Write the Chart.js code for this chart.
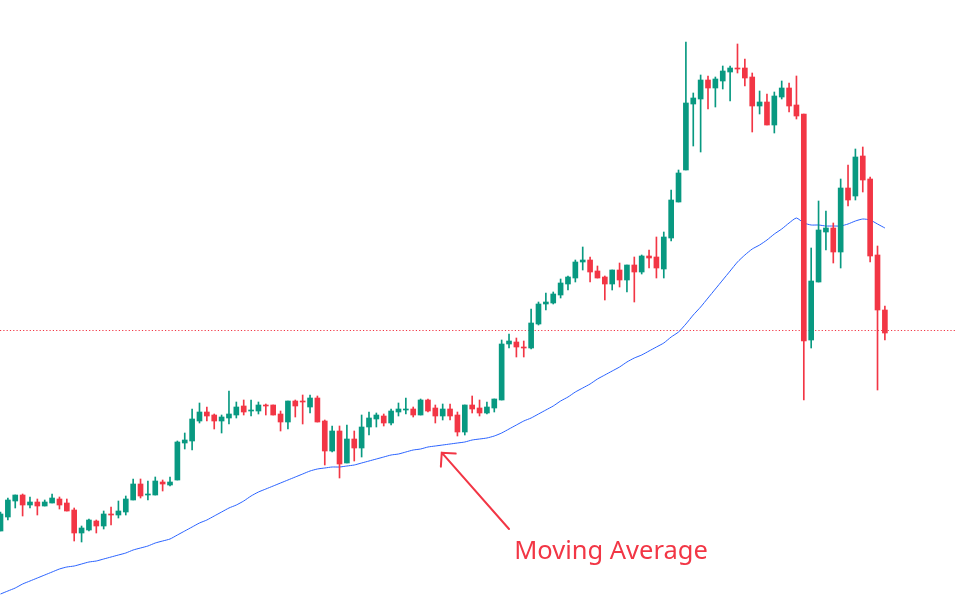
<!DOCTYPE html>
<html>
<head>
<meta charset="utf-8">
<script src="https://cdn.jsdelivr.net/npm/chart.js@4.4.1/dist/chart.umd.min.js"></script>
<style>
  html, body { margin: 0; padding: 0; background: #ffffff; overflow: hidden; }
  #wrap { width: 956px; height: 613px; position: relative; }
</style>
</head>
<body>
<div id="wrap"><canvas id="chart"></canvas></div>
<script>
// velas (OHLC), unidades de precio arbitrarias
const open = [169,183,199,205,195,198,194,197,201,197, 190,167,170,179,174,186,185,188,200,216,
  205,205,218,215,220,257,259,279,288,285, 279,282,285,294,289,289,295,295,286,278,
  299,299,293,302,279,249,269,237,261,252, 273,281,284,277,288,290,291,285,300,292,
  284,291,285,268,295,292,287,292,300,356, 358,353,352,376,396,397,405,416,422,438,
  440,429,423,416,430,420,435,428,444,443, 431,462,498,530,596,601,620,612,619,628,
  632,632,623,594,598,575,603,612,595,586, 360,418,468,472,448,512,504,544,521,445,390];
const high = [188,202,205,206,203,201,200,206,203,201, 192,174,181,180,189,193,199,204,221,221,
  219,223,220,223,259,267,291,297,293,286, 285,309,298,300,300,298,296,295,289,299,
  300,305,305,304,280,274,274,275,269,285, 288,287,286,291,297,302,293,301,301,295,
  296,296,288,295,304,300,298,301,360,366, 362,359,391,398,407,408,421,424,440,453,
  443,434,424,430,437,435,443,445,450,463, 468,510,530,658,607,625,624,623,634,634,
  656,641,627,609,606,608,619,617,624,586, 452,499,489,477,521,535,551,553,523,454,394];
const low = [169,180,192,184,192,185,194,197,191,189, 159,158,169,167,171,175,182,185,200,202,
  200,205,209,214,220,251,250,277,279,271, 267,276,282,285,284,286,285,285,269,271,
  283,276,287,278,235,248,222,237,239,243, 265,273,274,275,284,286,283,285,288,277,
  280,280,264,265,287,284,286,288,300,352, 343,343,351,375,390,396,402,410,418,430,
  418,422,400,410,413,408,398,426,432,422, 422,459,498,530,554,548,591,593,611,599,
  627,614,568,586,575,567,601,588,581,300, 352,418,450,437,432,494,500,508,438,310,360];
const close = [186,200,205,195,198,194,198,202,195,189, 167,172,180,174,186,185,189,201,216,204,
  206,219,216,218,258,260,281,288,284,279, 283,286,293,288,290,295,294,285,278,299,
  294,298,302,278,249,269,236,261,252,273, 282,285,277,289,291,291,285,300,289,284,
  291,284,268,295,291,287,293,301,356,359, 353,352,377,396,398,406,417,423,438,440,
  428,422,416,430,420,435,428,444,442,432, 463,500,527,597,602,620,612,621,629,632,
  631,622,594,598,575,604,612,594,584,359, 419,470,472,448,512,500,543,520,444,390,367];

// media movil
const movingAverage = [106,109,112,116,119,122,125,128,131,133, 134,136,138,139,141,143,145,147,150,152,
  154,157,159,161,165,169,173,177,180,184, 188,192,195,199,204,208,211,214,217,220,
  223,226,229,231,232,233,233,234,235,237, 239,241,243,245,246,248,250,251,253,254,
  255,256,257,258,260,261,262,264,267,271, 275,279,282,286,290,294,299,303,308,312,
  316,321,325,329,333,338,342,345,349,353, 357,363,368,376,385,393,402,411,420,429,
  438,445,451,455,460,466,471,477,482,477, 475,475,474,474,474,476,479,481,480,476,472];

// linea de precio actual (punteada)
const priceLine = 369.5;

// anotacion: flecha y texto
const arrowTip = { x: 59.87, y: 247.3 };
const arrowTail = { x: 69.0, y: 171 };
const labelPos = { x: 69.7, y: 141 };
const labelText = "Moving Average";

const UP = "#089981";
const DOWN = "#F23645";

const idx = open.map((_, i) => i);
const colors = idx.map(i => close[i] >= open[i] ? UP : DOWN);
const bodies = idx.map(i => ({ x: i, y: [open[i], close[i]] }));
const wicks = idx.map(i => ({ x: i, y: [low[i], high[i]] }));
const maPoints = idx.map(i => ({ x: i, y: movingAverage[i] }));

const xMin = -0.068;
const xMax = 129.65;
const linePoints = [{ x: xMin, y: priceLine }, { x: xMax, y: priceLine }];

// Plugin para la flecha y el texto
const annotationPlugin = {
  id: "annotation",
  afterDatasetsDraw(chart) {
    const ctx = chart.ctx;
    const xs = chart.scales.x, ys = chart.scales.y;
    const tx = xs.getPixelForValue(arrowTip.x), ty = ys.getPixelForValue(arrowTip.y);
    const sx = xs.getPixelForValue(arrowTail.x), sy = ys.getPixelForValue(arrowTail.y);
    const ang = Math.atan2(sy - ty, sx - tx);
    const head = 14;
    ctx.save();
    ctx.strokeStyle = DOWN;
    ctx.lineWidth = 2;
    ctx.lineCap = "round";
    ctx.beginPath();
    ctx.moveTo(sx, sy);
    ctx.lineTo(tx, ty);
    ctx.moveTo(tx + head * Math.cos(ang - Math.PI / 4), ty + head * Math.sin(ang - Math.PI / 4));
    ctx.lineTo(tx, ty);
    ctx.lineTo(tx + head * Math.cos(ang + Math.PI / 4), ty + head * Math.sin(ang + Math.PI / 4));
    ctx.stroke();

    ctx.fillStyle = DOWN;
    ctx.font = "25.5px 'Noto Sans'";
    ctx.textBaseline = "alphabetic";
    ctx.fillText(labelText, xs.getPixelForValue(labelPos.x), ys.getPixelForValue(labelPos.y));
    ctx.restore();
  }
};

const ctx = document.getElementById("chart").getContext("2d");
window.myChart = new Chart(ctx, {
  type: "bar",
  data: {
    datasets: [
      {
        label: "body",
        data: bodies,
        backgroundColor: colors,
        barThickness: 5,
        minBarLength: 1,
        grouped: false,
        order: 0
      },
      {
        label: "wick",
        data: wicks,
        backgroundColor: colors,
        barThickness: 1,
        grouped: false,
        order: 1
      },
      {
        type: "line",
        label: "MA",
        data: maPoints,
        borderColor: "#2962FF",
        borderWidth: 1,
        pointRadius: 0,
        tension: 0.2,
        order: 2
      },
      {
        type: "line",
        label: "price",
        data: linePoints,
        borderColor: DOWN,
        borderWidth: 1,
        borderDash: [1.2, 2.1],
        pointRadius: 0,
        order: 3
      }
    ]
  },
  options: {
    responsive: true,
    maintainAspectRatio: false,
    animation: false,
    layout: { padding: 0 },
    plugins: { legend: { display: false }, tooltip: { enabled: false } },
    scales: {
      x: { type: "linear", min: xMin, max: xMax, display: false, offset: false },
      y: { type: "linear", min: 87, max: 700, display: false }
    }
  },
  plugins: [annotationPlugin]
});
</script>
</body>
</html>
